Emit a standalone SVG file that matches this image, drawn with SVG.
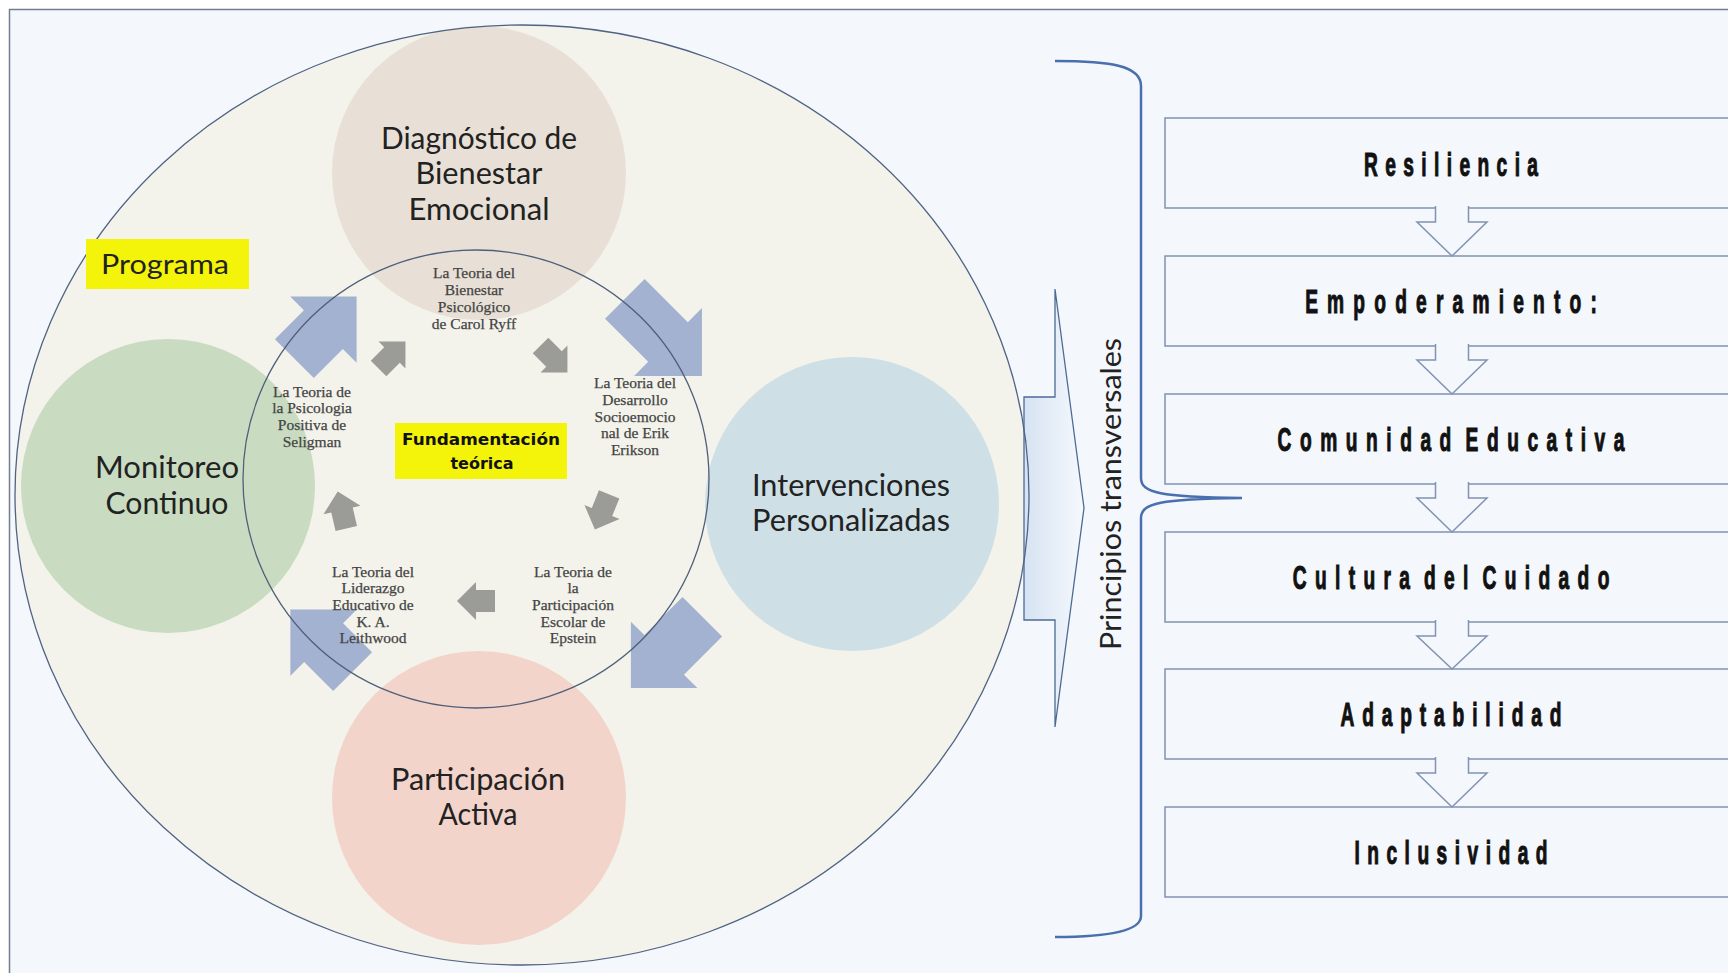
<svg xmlns="http://www.w3.org/2000/svg" width="1728" height="973" viewBox="0 0 1728 973">
<defs>
<style>
.lbl{font-family:Lato,"Open Sans","Liberation Sans",sans-serif;font-size:30px;fill:#222;text-anchor:middle}
.th{font-family:"Liberation Serif","DejaVu Serif",serif;font-size:15.5px;fill:#444;text-anchor:middle;stroke:#444;stroke-width:0.25}
.box{fill:none;stroke:#8193b4;stroke-width:1.5}
.darr{fill:#f4f7fb;stroke:#8193b4;stroke-width:1.5}
.bt{font-family:"Liberation Sans",Arial,sans-serif;font-weight:bold;font-size:33px;fill:#111;text-anchor:middle;stroke:#111;stroke-width:1.1}
.ws{word-spacing:-14px}
.blue{fill:#a2b2d0}
.gray{fill:#9b9c97}
</style>
<polygon id="ga" points="-19,-11 0,-11 0,-19 19,0 0,19 0,11 -19,11"/>
<linearGradient id="rg" x1="0" y1="0" x2="1" y2="0">
<stop offset="0" stop-color="#d6e3f2"/>
<stop offset="1" stop-color="#f6f9fd"/>
</linearGradient>
</defs>
<rect x="0" y="0" width="1728" height="973" fill="#ffffff"/>
<rect x="9.5" y="9.5" width="1730" height="980" fill="#f4f7fb" stroke="#717e94" stroke-width="1.5"/>

<g id="programa">
<ellipse cx="522" cy="495" rx="507" ry="470" fill="#f3f3eb"/>
</g>

<g id="node-diagnostico"><circle cx="479" cy="173" r="147" fill="#e8e0d6"/></g>
<g id="node-monitoreo"><circle cx="168" cy="486" r="147" fill="#c9dcc1"/></g>
<g id="node-intervenciones"><circle cx="852" cy="504" r="147" fill="#cee0e6"/></g>
<g id="node-participacion"><circle cx="479" cy="798" r="147" fill="#f2d4ca"/></g>

<g id="connectors">
<polygon class="blue" transform="translate(325.5,327.5) rotate(-45)" points="-44,-27.5 -3,-27.5 -3,-47 44,0 -3,47 -3,27.5 -44,27.5"/>
<polygon class="blue" transform="translate(663.4,337.4) rotate(45)" points="-54.5,-28 6.5,-28 6.5,-48 54.5,0 6.5,48 6.5,28 -54.5,28"/>
<polygon class="blue" transform="translate(666.6,652.4) rotate(135)" points="-50.5,-28 3.5,-28 3.5,-47 50.5,0 3.5,47 3.5,28 -50.5,28"/>
<polygon class="blue" transform="translate(321.5,640.5) rotate(-135)" points="-44,-27.5 -3,-27.5 -3,-47 44,0 -3,47 -3,27.5 -44,27.5"/>
<use href="#ga" class="gray" transform="translate(392,355) rotate(-45)"/>
<use href="#ga" class="gray" transform="translate(554,359) rotate(45)"/>
<use href="#ga" class="gray" transform="translate(602,512) rotate(112)"/>
<use href="#ga" class="gray" transform="translate(476,601) rotate(180)"/>
<use href="#ga" class="gray" transform="translate(342,510) rotate(-103)"/>
<polygon points="1024,397 1055,397 1055,289 1084,508 1055,727 1055,620 1024,620" fill="url(#rg)" stroke="#4d6a96" stroke-width="1.3"/>
<path d="M1055,61 C1112,61 1141,66 1141,86 L1141,478 C1141,493 1160,497 1242,498 C1160,499 1141,503 1141,518 L1141,916 C1141,930 1112,937 1055,937" fill="none" stroke="#4a6fae" stroke-width="2.5"/>
</g>

<g id="fundamentacion">
<ellipse cx="476" cy="479" rx="233" ry="229" fill="none" stroke="#4f5f7a" stroke-width="1.3"/>
<rect x="395" y="423" width="172" height="56" fill="#f4f40a"/>
<text x="481" y="445" font-family="'DejaVu Sans','Liberation Sans',sans-serif" font-weight="bold" font-size="16" fill="#111" text-anchor="middle" textLength="158" lengthAdjust="spacingAndGlyphs">Fundamentación</text>
<text x="482" y="469" font-family="'DejaVu Sans','Liberation Sans',sans-serif" font-weight="bold" font-size="16" fill="#111" text-anchor="middle">teórica</text>
</g>
<ellipse cx="522" cy="495" rx="507" ry="470" fill="none" stroke="#4f6384" stroke-width="1.3"/>

<g id="teoria-ryff">
<text class="th" x="474" y="278">La Teoria del</text>
<text class="th" x="474" y="295">Bienestar</text>
<text class="th" x="474" y="312">Psicológico</text>
<text class="th" x="474" y="329">de Carol Ryff</text>
</g>
<g id="teoria-erikson">
<text class="th" x="635" y="388">La Teoria del</text>
<text class="th" x="635" y="405">Desarrollo</text>
<text class="th" x="635" y="422">Socioemocio</text>
<text class="th" x="635" y="438">nal de Erik</text>
<text class="th" x="635" y="455">Erikson</text>
</g>
<g id="teoria-epstein">
<text class="th" x="573" y="577">La Teoria de</text>
<text class="th" x="573" y="593">la</text>
<text class="th" x="573" y="610">Participación</text>
<text class="th" x="573" y="627">Escolar de</text>
<text class="th" x="573" y="643">Epstein</text>
</g>
<g id="teoria-leithwood">
<text class="th" x="373" y="577">La Teoria del</text>
<text class="th" x="373" y="593">Liderazgo</text>
<text class="th" x="373" y="610">Educativo de</text>
<text class="th" x="373" y="627">K. A.</text>
<text class="th" x="373" y="643">Leithwood</text>
</g>
<g id="teoria-seligman">
<text class="th" x="312" y="397">La Teoria de</text>
<text class="th" x="312" y="413">la Psicologia</text>
<text class="th" x="312" y="430">Positiva de</text>
<text class="th" x="312" y="447">Seligman</text>
</g>

<g id="label-diagnostico">
<text class="lbl" x="479" y="149" textLength="196" lengthAdjust="spacingAndGlyphs">Diagnóstico de</text>
<text class="lbl" x="479" y="184" textLength="127" lengthAdjust="spacingAndGlyphs">Bienestar</text>
<text class="lbl" x="479" y="220" textLength="141" lengthAdjust="spacingAndGlyphs">Emocional</text>
</g>
<g id="label-monitoreo">
<text class="lbl" x="167" y="478" textLength="144" lengthAdjust="spacingAndGlyphs">Monitoreo</text>
<text class="lbl" x="167" y="514" textLength="123" lengthAdjust="spacingAndGlyphs">Continuo</text>
</g>
<g id="label-intervenciones">
<text class="lbl" x="851" y="496" textLength="198" lengthAdjust="spacingAndGlyphs">Intervenciones</text>
<text class="lbl" x="851" y="531" textLength="198" lengthAdjust="spacingAndGlyphs">Personalizadas</text>
</g>
<g id="label-participacion">
<text class="lbl" x="478" y="790" textLength="174" lengthAdjust="spacingAndGlyphs">Participación</text>
<text class="lbl" x="478" y="825" textLength="79" lengthAdjust="spacingAndGlyphs">Activa</text>
</g>
<g id="label-programa">
<rect x="86" y="239" width="163" height="50" fill="#f4f40a"/>
<text class="lbl" x="165" y="274" textLength="128" lengthAdjust="spacingAndGlyphs" style="font-size:27px">Programa</text>
</g>

<g id="principios">
<text transform="translate(1121,494) rotate(-90)" font-family="Lato,'Open Sans',sans-serif" font-size="28" fill="#222" text-anchor="middle" textLength="312" lengthAdjust="spacingAndGlyphs">Principios transversales</text>
</g>

<g id="node-resiliencia"><rect class="box" x="1165" y="118" width="600" height="90"/>
<text class="bt" transform="translate(1451,176) scale(0.58,1)" textLength="300" lengthAdjust="spacing">Resiliencia</text></g>
<g id="node-empoderamiento"><rect class="box" x="1165" y="256" width="600" height="90"/>
<text class="bt" transform="translate(1451,313) scale(0.58,1)" textLength="503" lengthAdjust="spacing">Empoderamiento:</text></g>
<g id="node-comunidad"><rect class="box" x="1165" y="394" width="600" height="90"/>
<text class="bt ws" transform="translate(1451,451) scale(0.58,1)" textLength="598" lengthAdjust="spacing">Comunidad Educativa</text></g>
<g id="node-cultura"><rect class="box" x="1165" y="532" width="600" height="90"/>
<text class="bt ws" transform="translate(1451,589) scale(0.58,1)" textLength="546" lengthAdjust="spacing">Cultura del Cuidado</text></g>
<g id="node-adaptabilidad"><rect class="box" x="1165" y="669" width="600" height="90"/>
<text class="bt" transform="translate(1451,726) scale(0.58,1)" textLength="381" lengthAdjust="spacing">Adaptabilidad</text></g>
<g id="node-inclusividad"><rect class="box" x="1165" y="807" width="600" height="90"/>
<text class="bt" transform="translate(1451,864) scale(0.58,1)" textLength="333" lengthAdjust="spacing">Inclusividad</text></g>

<g id="flow-arrows">
<path class="darr" d="M1435.5,206 V222 H1417 L1452,256 L1487,222 H1468.5 V206"/>
<path class="darr" d="M1435.5,344 V360 H1417 L1452,394 L1487,360 H1468.5 V344"/>
<path class="darr" d="M1435.5,482 V498 H1417 L1452,532 L1487,498 H1468.5 V482"/>
<path class="darr" d="M1435.5,620 V636 H1417 L1452,669 L1487,636 H1468.5 V620"/>
<path class="darr" d="M1435.5,757 V773 H1417 L1452,807 L1487,773 H1468.5 V757"/>
</g>
</svg>
